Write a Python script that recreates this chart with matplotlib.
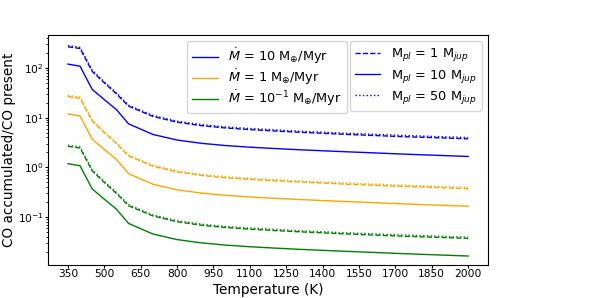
import numpy as np
import matplotlib
matplotlib.use('Agg')
import matplotlib.pyplot as plt
from matplotlib.lines import Line2D

# temperatures of the model grid (K)
temperature = [350, 400, 450, 500, 550, 600, 700, 800, 900, 1000,
               1100, 1200, 1300, 1400, 1500, 1600, 1700, 1800, 1900, 2000]

# Mdot = 10 Mearth/Myr
hi_1mj = [265, 245, 85, 50, 30, 17, 10.6, 8.1, 6.9, 6.2,
          5.75, 5.4, 5.1, 4.85, 4.6, 4.4, 4.2, 4.05, 3.9, 3.75]
hi_10mj = [119, 108, 37, 23, 14.5, 7.5, 4.6, 3.55, 3.05, 2.75,
           2.55, 2.4, 2.27, 2.16, 2.06, 1.97, 1.88, 1.8, 1.73, 1.66]
hi_50mj = [280, 258, 90, 52, 31.5, 17.8, 11.1, 8.5, 7.25, 6.5,
           6.05, 5.7, 5.35, 5.1, 4.85, 4.65, 4.45, 4.28, 4.12, 3.98]

# Mdot = 1 Mearth/Myr
mid_1mj = [26.5, 24.5, 8.5, 5.0, 3.0, 1.7, 1.06, 0.81, 0.69, 0.62,
           0.575, 0.54, 0.51, 0.485, 0.46, 0.44, 0.42, 0.405, 0.39, 0.375]
mid_10mj = [11.9, 10.8, 3.7, 2.3, 1.45, 0.75, 0.46, 0.355, 0.305, 0.275,
            0.255, 0.24, 0.227, 0.216, 0.206, 0.197, 0.188, 0.18, 0.173, 0.166]
mid_50mj = [28.0, 25.8, 9.0, 5.2, 3.15, 1.78, 1.11, 0.85, 0.725, 0.65,
            0.605, 0.57, 0.535, 0.51, 0.485, 0.465, 0.445, 0.428, 0.412, 0.398]

# Mdot = 0.1 Mearth/Myr
lo_1mj = [2.65, 2.45, 0.85, 0.50, 0.30, 0.17, 0.106, 0.081, 0.069, 0.062,
          0.0575, 0.054, 0.051, 0.0485, 0.046, 0.044, 0.042, 0.0405, 0.039, 0.0375]
lo_10mj = [1.19, 1.08, 0.37, 0.23, 0.145, 0.075, 0.046, 0.0355, 0.0305, 0.0275,
           0.0255, 0.024, 0.0227, 0.0216, 0.0206, 0.0197, 0.0188, 0.018, 0.0173, 0.0166]
lo_50mj = [2.80, 2.58, 0.90, 0.52, 0.315, 0.178, 0.111, 0.085, 0.0725, 0.065,
           0.0605, 0.057, 0.0535, 0.051, 0.0485, 0.0465, 0.0445, 0.0428, 0.0412, 0.0398]

rates = [
    ('blue', r'$\dot{M}$ = 10 M$_{\oplus}$/Myr', hi_1mj, hi_10mj, hi_50mj),
    ('orange', r'$\dot{M}$ = 1 M$_{\oplus}$/Myr', mid_1mj, mid_10mj, mid_50mj),
    ('green', r'$\dot{M}$ = 10$^{-1}$ M$_{\oplus}$/Myr', lo_1mj, lo_10mj, lo_50mj),
]

fig = plt.figure(figsize=(5.99, 2.98), dpi=100)
ax = fig.add_axes([0.080, 0.111, 0.735, 0.772])

for color, label, y1, y10, y50 in rates:
    ax.plot(temperature, y1, color=color, ls='--', lw=1)
    ax.plot(temperature, y10, color=color, ls='-', lw=1)
    ax.plot(temperature, y50, color=color, ls=':', lw=1)

ax.set_yscale('log')
ax.set_ylim(0.011, 460)
ax.set_xticks(np.arange(350, 2001, 150))
ax.tick_params(which='major', labelsize=7.7, length=2.2, pad=0.8)
ax.tick_params(which='minor', length=1.3)
ax.set_xlabel('Temperature (K)', fontsize=9.8, labelpad=2.5)
ax.set_ylabel('CO accumulated/CO present', fontsize=9.8)
ax.yaxis.set_label_coords(-0.072, 0.5)

# legend for accretion rates (colours)
rate_handles = [Line2D([], [], color=c, lw=1) for c, *_ in rates]
rate_labels = [r[1] for r in rates]
leg1 = ax.legend(rate_handles, rate_labels, loc='upper left',
                 bbox_to_anchor=(0.301, 1.0), fontsize=9.25, labelspacing=0.12)
ax.add_artist(leg1)

# legend for planet masses (line styles)
mass_handles = [Line2D([], [], color='blue', ls=s, lw=1) for s in ['--', '-', ':']]
mass_labels = [r'M$_{pl}$ = 1 M$_{jup}$', r'M$_{pl}$ = 10 M$_{jup}$',
               r'M$_{pl}$ = 50 M$_{jup}$']
ax.legend(mass_handles, mass_labels, loc='upper right', fontsize=9.25,
          labelspacing=0.33)

fig.savefig('out.png', dpi=100)
